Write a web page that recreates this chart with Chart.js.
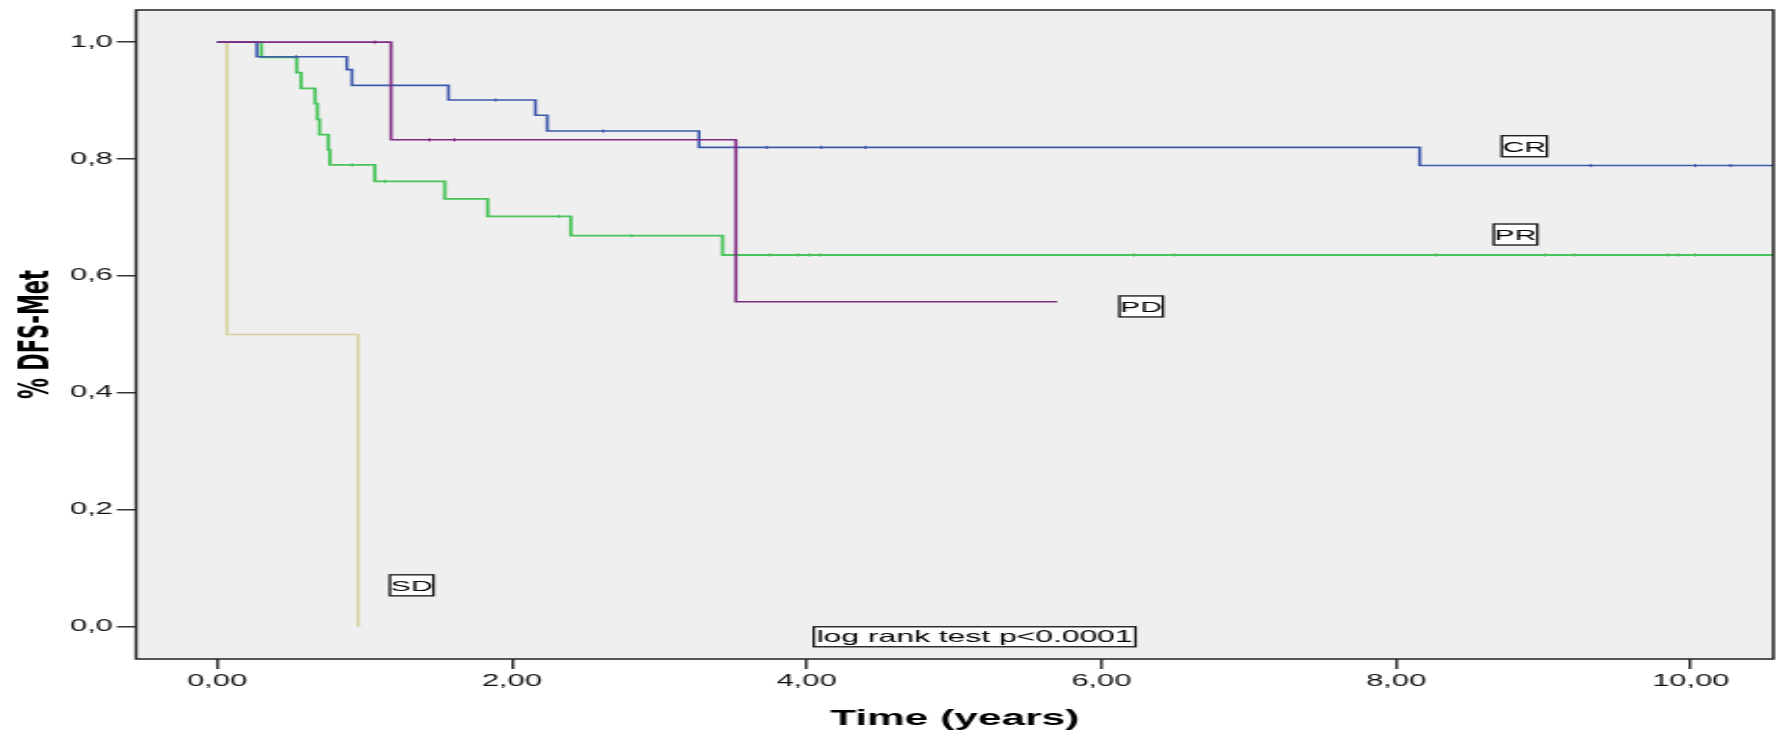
<!DOCTYPE html>
<html>
<head>
<meta charset="utf-8">
<script src="https://cdn.jsdelivr.net/npm/chart.js@4.4.1/dist/chart.umd.min.js"></script>
<style>
html,body{margin:0;padding:0;background:#fff;overflow:hidden}
canvas{display:block}
</style>
</head>
<body>
<canvas id="km" width="924" height="734" style="width:1783px;height:734px"></canvas>
<script>
// ---- Data (time in years, cumulative survival) ----
const crTimes = [0, 0.27, 0.88, 0.915, 1.57, 2.16, 2.24, 3.27, 8.16, 10.6];
const crSurv  = [1.0, 0.975, 0.953, 0.926, 0.901, 0.875, 0.848, 0.820, 0.789, 0.789];
const crCensorTimes = [0.535, 1.89, 2.62, 3.73, 4.10, 4.40, 9.32, 10.03, 10.27];
const crCensorSurv  = [0.975, 0.901, 0.848, 0.820, 0.820, 0.820, 0.789, 0.789, 0.789];

const prTimes = [0, 0.30, 0.54, 0.57, 0.665, 0.68, 0.695, 0.755, 0.765, 1.07, 1.545, 1.836, 2.40, 3.43, 10.6];
const prSurv  = [1.0, 0.974, 0.948, 0.921, 0.895, 0.868, 0.842, 0.816, 0.790, 0.762, 0.732, 0.702, 0.669, 0.636, 0.636];
const prCensorTimes = [0.915, 1.14, 2.32, 2.81, 3.75, 3.94, 4.02, 4.09, 6.22, 6.50, 8.27, 9.01, 9.21, 9.84, 9.91, 10.03];
const prCensorSurv  = [0.790, 0.762, 0.702, 0.669, 0.636, 0.636, 0.636, 0.636, 0.636, 0.636, 0.636, 0.636, 0.636, 0.636, 0.636, 0.636];

const pdTimes = [0, 1.18, 3.52, 5.70];
const pdSurv  = [1.0, 0.833, 0.556, 0.556];
const pdCensorTimes = [1.07, 1.44, 1.61];
const pdCensorSurv  = [1.0, 0.833, 0.833];

const sdTimes = [0, 0.066, 0.957];
const sdSurv  = [1.0, 0.5, 0.0];

const xTickValues = [0, 2, 4, 6, 8, 10];
const xTickLabels = ['0,00', '2,00', '4,00', '6,00', '8,00', '10,00'];
const yTickValues = [0, 0.2, 0.4, 0.6, 0.8, 1.0];
const yTickLabels = ['0,0', '0,2', '0,4', '0,6', '0,8', '1,0'];

const annotationTexts = ['CR', 'PR', 'PD', 'SD', 'log rank test p<0.0001'];
const annotationX = [8.87, 8.81, 6.27, 1.32, 5.14];
const annotationY = [0.822, 0.671, 0.548, 0.071, -0.017];

// ---- helpers ----
const pts = (xs, ys) => xs.map((x, i) => ({x: x, y: ys[i]}));
const FONT = '"Liberation Sans", Arial, sans-serif';
const COLORS = {cr: '#3e58ac', pr: '#48c45a', pd: '#7f2a82', sd: '#d6d09a'};

function curve(label, xs, ys, color, order, w) {
  return {label, data: pts(xs, ys), borderColor: color, borderWidth: w, stepped: true,
    pointRadius: 0, fill: false, tension: 0, clip: 0, order};
}
function censors(label, xs, ys, color, order) {
  return {label, data: pts(xs, ys), borderColor: color, backgroundColor: color, showLine: false,
    pointStyle: 'line', rotation: 90, pointRadius: 1.6, borderWidth: 1, clip: 0, order};
}

const plotDecor = {
  id: 'plotDecor',
  beforeDraw(chart) {
    const {ctx, chartArea: a} = chart;
    ctx.save();
    ctx.fillStyle = '#efefef';
    ctx.fillRect(a.left, a.top, a.right - a.left, a.bottom - a.top);
    ctx.restore();
  },
  afterDatasetsDraw(chart) {
    const {ctx, chartArea: a, scales} = chart;
    ctx.save();
    ctx.strokeStyle = '#222';
    ctx.lineWidth = 1.5;
    ctx.strokeRect(a.left, a.top, a.right - a.left, a.bottom - a.top);
    annotationTexts.forEach((t, i) => {
      const big = t.length > 4;
      const x = scales.x.getPixelForValue(annotationX[i]);
      const y = scales.y.getPixelForValue(annotationY[i]);
      ctx.font = (big ? '16.5px ' : '15.5px ') + FONT;
      const w = ctx.measureText(t).width + (big ? 3 : 1);
      const h = big ? 20 : 21;
      ctx.fillStyle = '#ffffff';
      ctx.fillRect(x - w / 2, y - h / 2, w, h);
      ctx.strokeStyle = '#111';
      ctx.lineWidth = 1.3;
      ctx.strokeRect(x - w / 2, y - h / 2, w, h);
      ctx.fillStyle = '#000';
      ctx.textAlign = 'center';
      ctx.textBaseline = 'middle';
      ctx.fillText(t, x, y + 1);
    });
    ctx.restore();
  }
};

new Chart(document.getElementById('km'), {
  type: 'line',
  data: {
    datasets: [
      curve('PD', pdTimes, pdSurv, COLORS.pd, 1, 1.6),
      censors('PD censored', pdCensorTimes, pdCensorSurv, COLORS.pd, 1),
      curve('CR', crTimes, crSurv, COLORS.cr, 2, 1.6),
      censors('CR censored', crCensorTimes, crCensorSurv, COLORS.cr, 2),
      curve('PR', prTimes, prSurv, COLORS.pr, 3, 1.8),
      censors('PR censored', prCensorTimes, prCensorSurv, COLORS.pr, 3),
      curve('SD', sdTimes, sdSurv, COLORS.sd, 4, 1.6)
    ]
  },
  options: {
    responsive: false,
    devicePixelRatio: 1,
    animation: false,
    layout: {padding: {left: 0, right: 3, top: 10, bottom: 0}},
    plugins: {legend: {display: false}, tooltip: {enabled: false}},
    scales: {
      x: {
        type: 'linear', min: -0.55, max: 10.56,
        border: {display: false},
        grid: {drawOnChartArea: false, drawTicks: true, tickLength: 10, color: '#333', lineWidth: 1.5},
        afterBuildTicks: s => { s.ticks = xTickValues.map(v => ({value: v})); },
        ticks: {autoSkip: false, maxRotation: 0, padding: 3, color: '#111',
          font: {family: FONT, size: 16}, callback: (v, i) => xTickLabels[i]},
        title: {display: true, text: 'Time (years)', color: '#000',
          font: {family: FONT, size: 22, weight: 'bold'}, padding: {top: 0, bottom: 2}},
        afterFit: s => { s.height = 75; s.paddingLeft = 0; s.paddingRight = 0; }
      },
      y: {
        type: 'linear', min: -0.055, max: 1.055,
        border: {display: false},
        grid: {drawOnChartArea: false, drawTicks: true, tickLength: 10, color: '#333', lineWidth: 1.5},
        afterBuildTicks: s => { s.ticks = yTickValues.map(v => ({value: v})); },
        ticks: {autoSkip: false, padding: 2, color: '#111',
          font: {family: FONT, size: 16}, callback: (v, i) => yTickLabels[i]},
        title: {display: true, text: '% DFS-Met', color: '#000',
          font: {family: '"DejaVu Sans", sans-serif', size: 21, weight: 'bold'}, padding: {top: 7, bottom: 0}},
        afterFit: s => { s.width = 70.5; s.paddingTop = 0; s.paddingBottom = 0; }
      }
    }
  },
  plugins: [plotDecor]
});
</script>
</body>
</html>
